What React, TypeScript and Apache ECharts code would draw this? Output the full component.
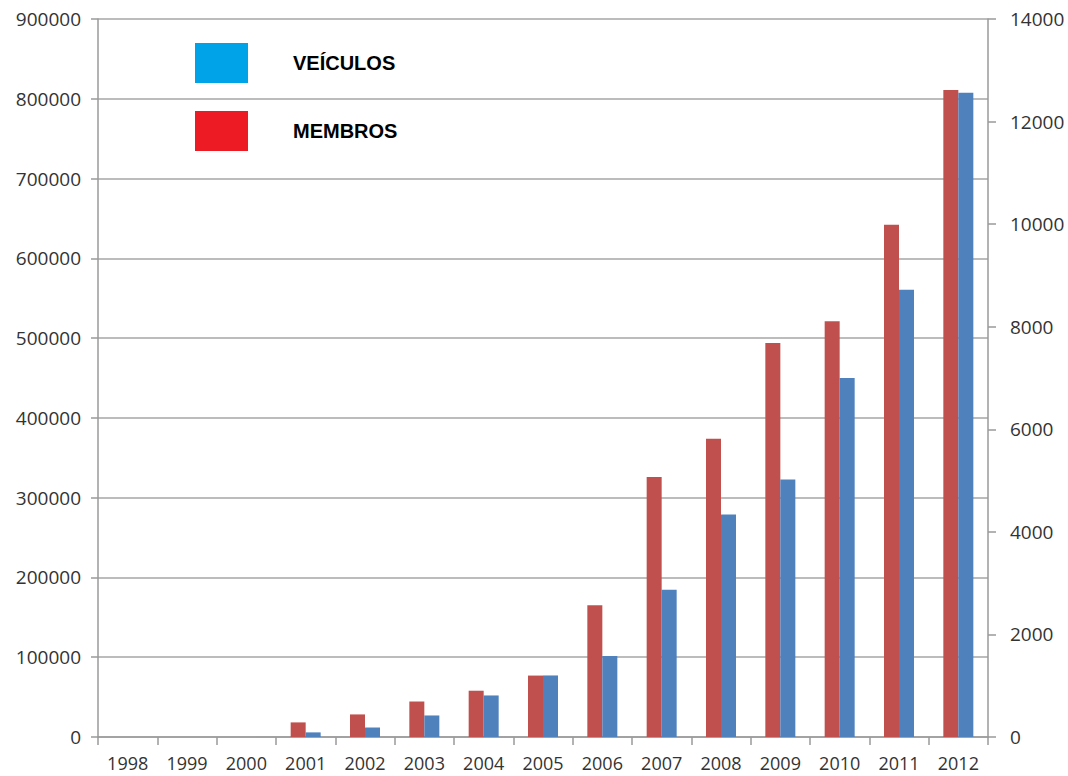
import React, { useEffect, useRef } from "react";
import * as echarts from "echarts";

const years = ["1998", "1999", "2000", "2001", "2002", "2003", "2004", "2005", "2006", "2007", "2008", "2009", "2010", "2011", "2012"];
// MEMBROS (left axis)
const membros = [0, 0, 0, 18300, 28300, 44500, 58000, 77000, 165000, 326000, 374000, 494000, 521000, 642000, 811000];
// VEÍCULOS (right axis)
const veiculos = [0, 0, 0, 90, 185, 420, 810, 1200, 1580, 2870, 4340, 5020, 7000, 8720, 12560];

const leftMax = 900000;
const leftInterval = 100000;
const rightMax = 14000;
const rightInterval = 2000;

const labelFont = { fontFamily: "Open Sans", fontSize: 19, color: "#333333" };
const plain = (v: number) => String(v);

export default function App() {
  const ref = useRef<HTMLDivElement>(null);
  useEffect(() => {
    if (!ref.current) return;
    const chart = echarts.init(ref.current, null, { renderer: "svg" });
    chart.setOption({
      animation: false,
      backgroundColor: "#ffffff",
      grid: { left: 98, right: 80, top: 19, bottom: 39, containLabel: false },
      legend: {
        orient: "vertical",
        left: 190,
        top: 38,
        itemWidth: 53,
        itemHeight: 40,
        itemGap: 28,
        icon: "rect",
        selectedMode: false,
        textStyle: {
          fontFamily: "Liberation Sans, Arial",
          fontWeight: "bold",
          fontSize: 20,
          color: "#000000",
          padding: [0, 0, 0, 40],
        },
        data: [
          { name: "VEÍCULOS", itemStyle: { color: "#00A2E8" } },
          { name: "MEMBROS", itemStyle: { color: "#ED1C24" } },
        ],
      },
      xAxis: {
        type: "category",
        data: years,
        axisLine: { lineStyle: { color: "#9a9a9a", width: 1.5 } },
        axisTick: { show: true, length: 8, lineStyle: { color: "#9a9a9a", width: 1.5 } },
        axisLabel: { ...labelFont, fontSize: 18, margin: 17 },
      },
      yAxis: [
        {
          type: "value",
          min: 0,
          max: leftMax,
          interval: leftInterval,
          axisLine: { show: true, lineStyle: { color: "#9a9a9a", width: 1.5 } },
          axisTick: { show: true, length: 7, lineStyle: { color: "#9a9a9a", width: 1.5 } },
          splitLine: { show: true, lineStyle: { color: "#a6a6a6", width: 1.5 } },
          axisLabel: { ...labelFont, margin: 17, formatter: plain },
        },
        {
          type: "value",
          min: 0,
          max: rightMax,
          interval: rightInterval,
          position: "right",
          axisLine: { show: true, lineStyle: { color: "#9a9a9a", width: 1.5 } },
          axisTick: { show: true, length: 8, lineStyle: { color: "#9a9a9a", width: 1.5 } },
          splitLine: { show: false },
          axisLabel: { ...labelFont, margin: 22, formatter: plain },
        },
      ],
      series: [
        {
          name: "MEMBROS",
          type: "bar",
          yAxisIndex: 0,
          data: membros,
          barWidth: 15,
          barGap: "0%",
          itemStyle: { color: "#C0504D" },
        },
        {
          name: "VEÍCULOS",
          type: "bar",
          yAxisIndex: 1,
          data: veiculos,
          barWidth: 15,
          barGap: "0%",
          itemStyle: { color: "#4F81BD" },
        },
      ],
    });
    return () => chart.dispose();
  }, []);
  return (
    <div
      ref={ref}
      style={{ position: "fixed", left: 0, top: 0, width: 1068, height: 776, background: "#fff" }}
    />
  );
}
